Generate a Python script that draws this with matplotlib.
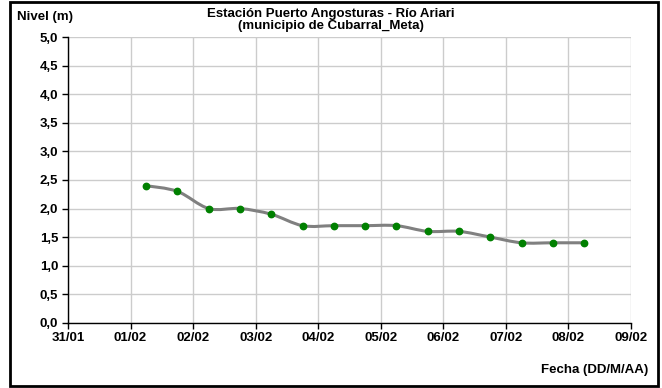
import datetime as dt
import matplotlib
matplotlib.use("Agg")
import matplotlib.pyplot as plt
import matplotlib.dates as mdates
from matplotlib.path import Path
from matplotlib.patches import PathPatch, Rectangle
from matplotlib.ticker import FuncFormatter, MultipleLocator

plt.rcParams['font.family'] = ['Liberation Sans', 'DejaVu Sans']
plt.rcParams['font.weight'] = 'bold'

# fechas de lectura (06:00 y 18:00) y nivel del rio
fechas = [dt.datetime(2010, 2, d, h) for d in range(1, 9) for h in (6, 18)][:15]
nivel = [2.4, 2.3, 2.0, 2.0, 1.9, 1.7, 1.7, 1.7, 1.7, 1.6, 1.6, 1.5, 1.4, 1.4, 1.4]

titulo = "Estación Puerto Angosturas - Río Ariari\n(municipio de Cubarral_Meta)"
x_inicio = dt.datetime(2010, 1, 31)
x_fin = dt.datetime(2010, 2, 9)


def smooth_path(xs, ys):
    # curva suavizada tipo Excel (Bezier cubica, Catmull-Rom)
    n = len(xs)
    verts = [(xs[0], ys[0])]
    codes = [Path.MOVETO]
    for i in range(n - 1):
        x0, y0 = (xs[i - 1], ys[i - 1]) if i > 0 else (xs[i], ys[i])
        x1, y1 = xs[i], ys[i]
        x2, y2 = xs[i + 1], ys[i + 1]
        x3, y3 = (xs[i + 2], ys[i + 2]) if i + 2 < n else (x2, y2)
        c1 = (x1 + (x2 - x0) / 6.0, y1 + (y2 - y0) / 6.0)
        c2 = (x2 - (x3 - x1) / 6.0, y2 - (y3 - y1) / 6.0)
        verts += [c1, c2, (x2, y2)]
        codes += [Path.CURVE4] * 3
    return Path(verts, codes)


fig = plt.figure(figsize=(6.62, 3.88), dpi=100)
ax = fig.add_axes([0.1027, 0.1683, 0.8505, 0.7356])

xnum = mdates.date2num(fechas)
ax.add_patch(PathPatch(smooth_path(list(xnum), nivel), facecolor='none',
                       edgecolor='#808080', linewidth=2.2, zorder=3))
ax.plot(fechas, nivel, linestyle='none', marker='o', markersize=4.6,
        color='#008000', zorder=4)

ax.set_xlim(x_inicio, x_fin)
ax.set_ylim(0, 5)
ax.xaxis.set_major_locator(mdates.DayLocator())
ax.xaxis.set_major_formatter(mdates.DateFormatter('%d/%m'))
ax.yaxis.set_major_locator(MultipleLocator(0.5))
ax.yaxis.set_major_formatter(FuncFormatter(lambda v, p: f"{v:.1f}".replace('.', ',')))

ax.grid(True, color='#cccccc', linewidth=1.0)
ax.set_axisbelow(True)
for s in ('top', 'right'):
    ax.spines[s].set_visible(False)
for s in ('left', 'bottom'):
    ax.spines[s].set_color('black')
    ax.spines[s].set_linewidth(1.0)
ax.tick_params(axis='both', direction='out', length=4, width=1, labelsize=9.5, pad=3)
for lab in ax.get_xticklabels() + ax.get_yticklabels():
    lab.set_fontweight('bold')

fig.text(0.5, 0.948, titulo, ha='center', va='center', fontsize=9.5,
         fontweight='bold', linespacing=1.05)
fig.text(0.026, 0.956, "Nivel (m)", ha='left', va='center', fontsize=9.5,
         fontweight='bold')
fig.text(0.979, 0.046, "Fecha (DD/M/AA)", ha='right', va='center', fontsize=9.5,
         fontweight='bold')

fig.patches.append(Rectangle((0.0155, 0.004), 0.978, 0.992, transform=fig.transFigure,
                             fill=False, edgecolor='black', linewidth=2))

fig.savefig('out.png', dpi=100)
